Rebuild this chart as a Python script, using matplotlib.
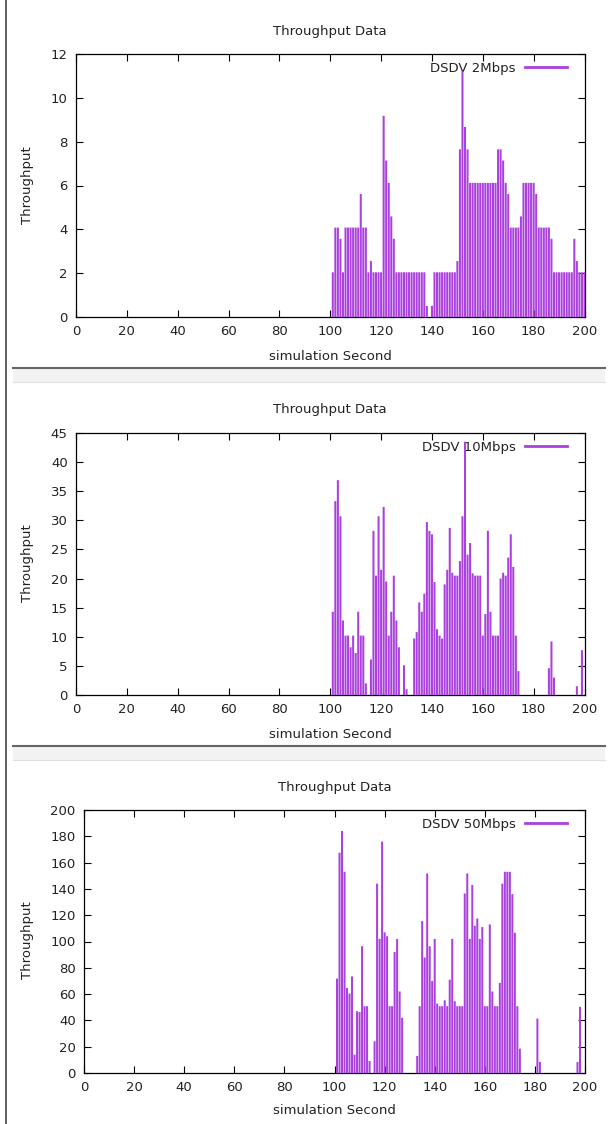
import numpy as np
import matplotlib
matplotlib.use("Agg")
import matplotlib.pyplot as plt
from matplotlib.lines import Line2D

# one value per simulation second, 101 .. 200
secs = list(range(101, 201))

tp_2mbps = [2.04, 4.08, 4.08, 3.57, 2.04, 4.08, 4.08, 4.08, 4.08, 4.08,
            4.08, 5.61, 4.08, 4.08, 2.04, 2.55, 2.04, 2.04, 2.04, 2.04,
            9.18, 7.14, 6.12, 4.59, 3.57, 2.04, 2.04, 2.04, 2.04, 2.04,
            2.04, 2.04, 2.04, 2.04, 2.04, 2.04, 2.04, 0.51, 0, 0.51,
            2.04, 2.04, 2.04, 2.04, 2.04, 2.04, 2.04, 2.04, 2.04, 2.55,
            7.65, 11.22, 8.67, 7.65, 6.12, 6.12, 6.12, 6.12, 6.12, 6.12,
            6.12, 6.12, 6.12, 6.12, 6.12, 7.65, 7.65, 7.14, 6.12, 5.61,
            4.08, 4.08, 4.08, 4.08, 4.59, 6.12, 6.12, 6.12, 6.12, 6.12,
            5.61, 4.08, 4.08, 4.08, 4.08, 4.08, 3.57, 2.04, 2.04, 2.04,
            2.04, 2.04, 2.04, 2.04, 2.04, 3.57, 2.55, 2.04, 2.04, 2.04]

tp_10mbps = [14.3, 33.3, 36.9, 30.7, 12.8, 10.2, 10.2, 8.2, 10.2, 7.2,
             14.3, 10.2, 10.2, 2.0, 0, 6.1, 28.2, 20.5, 30.7, 21.5,
             32.3, 19.5, 10.2, 14.3, 20.5, 12.8, 8.2, 0, 5.1, 1.0,
             0, 0, 9.7, 10.8, 15.9, 14.3, 17.4, 29.7, 28.2, 27.6,
             19.4, 11.3, 10.2, 9.7, 19.0, 21.5, 28.7, 21.0, 20.5, 20.5,
             23.0, 30.7, 43.5, 24.1, 26.1, 20.9, 20.5, 20.5, 20.5, 10.2,
             13.9, 28.2, 14.3, 10.2, 10.2, 10.2, 20.0, 21.0, 20.5, 23.6,
             27.6, 22.0, 10.2, 4.1, 0, 0, 0, 0, 0, 0,
             0, 0, 0, 0, 0, 4.6, 9.2, 3.0, 0, 0,
             0, 0, 0, 0, 0, 0, 1.5, 0, 7.7, 0]

tp_50mbps = [71.8, 167.5, 184, 153, 64.7, 60.4, 73.4, 14, 47, 46.4,
             96.4, 50.8, 50.8, 9.1, 0, 24.1, 144, 102, 176, 107,
             104, 50.8, 50.8, 92, 102, 62, 42, 0, 0, 0,
             0, 0, 13, 50.8, 115.5, 87.8, 151.8, 96.4, 70, 102,
             52.8, 50.8, 50.8, 55.3, 50.8, 71, 102, 54.6, 50.8, 50.8,
             50.8, 136.5, 151.8, 102, 143, 112, 117.5, 102, 111, 50.8,
             50.8, 113, 62, 50.8, 50.8, 68.5, 144, 153, 153, 153,
             136, 106.6, 50.8, 18.5, 0, 0, 0, 0, 0, 0,
             41.4, 8.4, 0, 0, 0, 0, 0, 0, 0, 0,
             0, 0, 0, 0, 0, 0, 8.4, 50.3, 0, 0]

labels = ["DSDV 2Mbps", "DSDV 10Mbps", "DSDV 50Mbps"]
ymax = [12, 45, 200]
ystep = [2, 5, 20]

W, H = 611, 1124
fig = plt.figure(figsize=(W / 100, H / 100), dpi=100)
plt.rcParams['font.family'] = ['DejaVu Sans']

purple = "#9400d3"
fill = "#ab40dd"
fs = 9.5
txt = "#222222"

# axes boxes in pixels: left, top, right, bottom
boxes = [(76, 54, 584.5, 317), (76, 433, 584.5, 695), (84, 810, 585, 1073)]
# title y, xlabel y, ylabel y (pixels)
text_pos = [(31, 356, 185), (409, 734, 563), (787, 1111, 940)]
series = [tp_2mbps, tp_10mbps, tp_50mbps]

for (l, t, r, b), (ty, xy, yy), vals, lab, ym, ys in zip(
        boxes, text_pos, series, labels, ymax, ystep):
    ax = fig.add_axes([l / W, 1 - b / H, (r - l) / W, (b - t) / H])
    bars = ax.bar(secs, vals, width=0.8, color=fill, linewidth=0, zorder=3)
    for p in bars:
        p.set_snap(False)
    ax.set_xlim(0, 200)
    ax.set_ylim(0, ym)
    ax.set_xticks(range(0, 201, 20))
    ax.set_yticks(np.arange(0, ym + 0.1, ys))
    ax.tick_params(direction="in", length=5, width=0.8, top=True, right=True,
                   labelsize=fs, pad=6, labelcolor=txt)
    for sp in ax.spines.values():
        sp.set_linewidth(0.9)
    cx = (l + r) / 2 / W
    fig.text(cx, 1 - ty / H, "Throughput Data", fontsize=fs, color=txt,
             ha="center", va="center")
    fig.text(cx, 1 - xy / H, "simulation Second", fontsize=fs, color=txt,
             ha="center", va="center")
    fig.text(27 / W, 1 - yy / H, "Throughput", fontsize=fs, color=txt,
             ha="center", va="center", rotation=90)
    h = Line2D([0], [0], color=fill, lw=2)
    leg = ax.legend([h], [lab], loc="upper right", frameon=False,
                    fontsize=fs, markerfirst=False, handlelength=3.2,
                    handletextpad=0.7, borderaxespad=0, borderpad=0,
                    bbox_to_anchor=((567 - l) / (r - l), 1 - 8 / (b - t)))
    for tx in leg.get_texts():
        tx.set_color(txt)
    leg.set_zorder(1)

# page chrome: left border and separators between the three images
fig.add_artist(Line2D([6 / W, 6 / W], [0, 1], color="#444444", lw=1.2))
for y in (368, 746):
    fig.add_artist(plt.Rectangle((13 / W, 1 - (y + 14) / H), (605 - 13) / W, 14 / H,
                                 transform=fig.transFigure, color="#f2f2f2", lw=0))
    fig.add_artist(Line2D([13 / W, 605 / W], [1 - y / H, 1 - y / H],
                          color="#666666", lw=1.5))
    fig.add_artist(Line2D([13 / W, 605 / W], [1 - (y + 14) / H, 1 - (y + 14) / H],
                          color="#e0e0e0", lw=0.8))

fig.savefig("out.png", dpi=100)
